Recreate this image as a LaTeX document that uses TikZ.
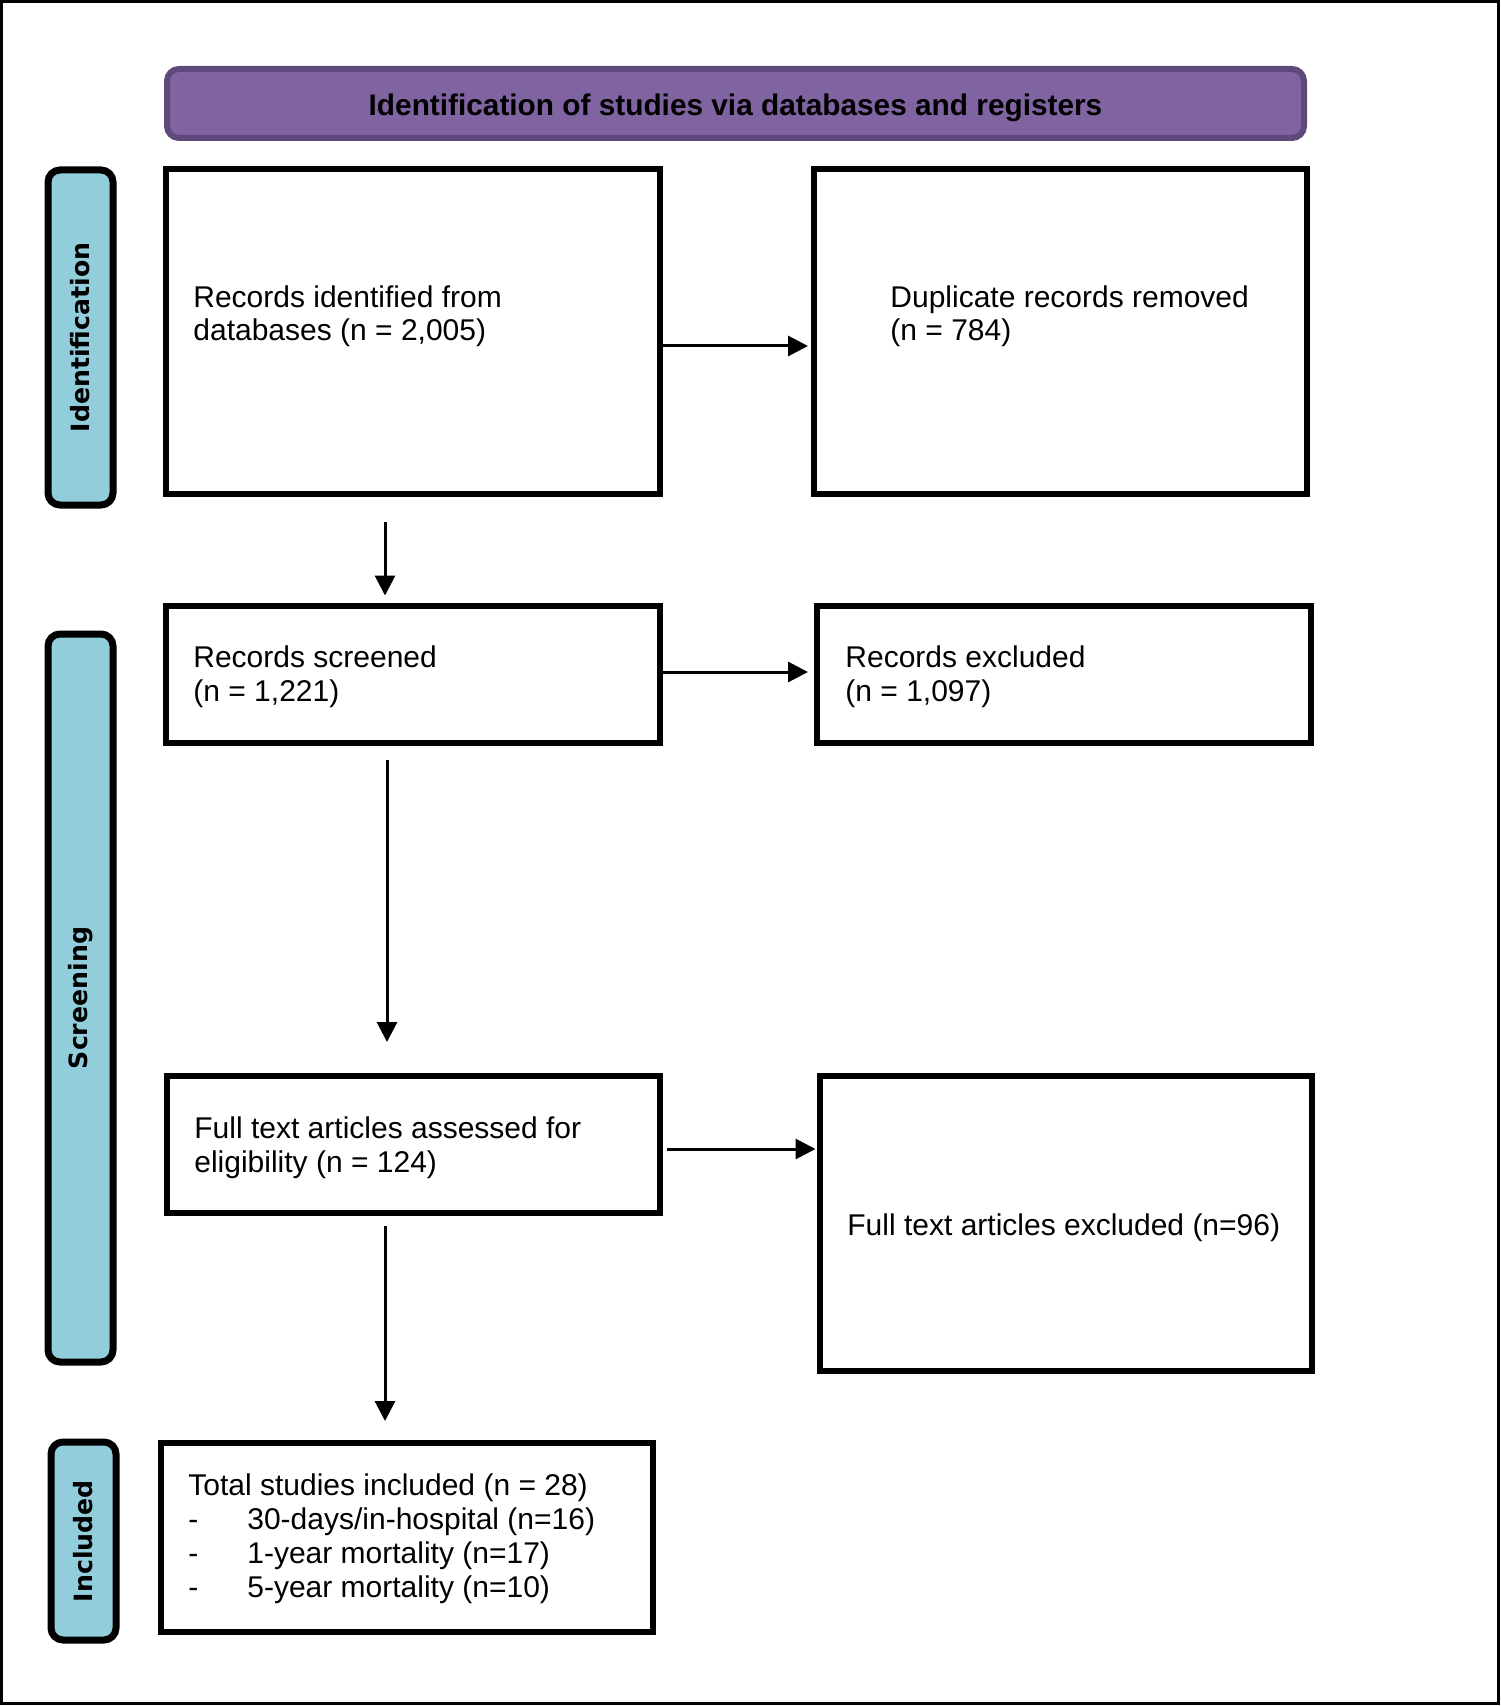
\documentclass[tikz,border=0pt]{standalone}
\usepackage{fontspec}
\setmainfont{Liberation Sans}
\newfontfamily\labfont{DejaVu Sans}
\usetikzlibrary{arrows.meta}
\definecolor{hdrfill}{HTML}{8064A2}
\definecolor{hdrline}{HTML}{5F497A}
\definecolor{labfill}{HTML}{92CDDC}
\begin{document}
\begin{tikzpicture}[x=0.5pt,y=-0.5pt,
  box/.style={draw=black, line width=3pt, rectangle, inner sep=0pt, fill=white},
  side/.style={draw=black, line width=3.5pt, rounded corners=6pt, fill=labfill, inner sep=0pt, rotate=90,
    font=\labfont\bfseries\fontsize{12.6pt}{14pt}\selectfont},
  body/.style={font=\fontsize{15pt}{17pt}\selectfont, inner sep=0pt, anchor=base west},
  arr/.style={line width=1.5pt, -{Triangle[length=10pt,width=10pt]}},
]
\useasboundingbox (0,0) rectangle (1500,1706);
\draw[line width=1.5pt] (1.5,1.5) rectangle (1498.5,1703);

% header
\node[draw=hdrline, fill=hdrfill, line width=3pt, rounded corners=6pt,
      minimum width=568.5pt, minimum height=34.5pt, inner sep=0pt] (hdr) at (735.5,103.5) {};
\node[font=\bfseries\fontsize{14.9pt}{17pt}\selectfont, anchor=base, inner sep=0pt] (hdrt) at (735.5,115.5)
  {Identification of studies via databases and registers};

% side labels
\node[side, minimum width=167.5pt, minimum height=32.5pt] (lid) at (80.5,337.5) {Identification};
\node[side, minimum width=364pt, minimum height=32.5pt] (lscr) at (80.5,998) {Screening};
\node[side, minimum width=99pt, minimum height=32.5pt] (linc) at (83.5,1541) {Included};

% boxes
\node[box, minimum width=247pt, minimum height=162.5pt] (id) at (413,331.5) {};
\node[box, minimum width=246.5pt, minimum height=162.5pt] (dup) at (1060.5,331.5) {};
\node[box, minimum width=247pt, minimum height=68.5pt] (scr) at (413,674.5) {};
\node[box, minimum width=247pt, minimum height=68.5pt] (exc) at (1064,674.5) {};
\node[box, minimum width=246.5pt, minimum height=68.5pt] (full) at (413.5,1144.5) {};
\node[box, minimum width=246pt, minimum height=147.5pt] (fexc) at (1066,1223.5) {};
\node[box, minimum width=246pt, minimum height=94.5pt] (inc) at (407,1537.5) {};

% texts
\node[body] (idt) at (193,307) {\begin{tabular}[t]{@{}l@{}}Records identified from\\databases (n = 2,005)\end{tabular}};
\node[body] (dupt) at (890,307) {\begin{tabular}[t]{@{}l@{}}Duplicate records removed\\(n = 784)\end{tabular}};
\node[body] (scrt) at (193,667.5) {\begin{tabular}[t]{@{}l@{}}Records screened\\(n = 1,221)\end{tabular}};
\node[body] (exct) at (845,667.5) {\begin{tabular}[t]{@{}l@{}}Records excluded\\(n = 1,097)\end{tabular}};
\node[body] (fullt) at (194,1138.5) {\begin{tabular}[t]{@{}l@{}}Full text articles assessed for\\eligibility (n = 124)\end{tabular}};
\node[body] (fexct) at (847,1235) {Full text articles excluded (n=96)};
\node[body] (inct) at (188,1495.5) {\begin{tabular}[t]{@{}l@{}}Total studies included (n = 28)\\
  \makebox[29.5pt][l]{-}30-days/in-hospital (n=16)\\
  \makebox[29.5pt][l]{-}1-year mortality (n=17)\\
  \makebox[29.5pt][l]{-}5-year mortality (n=10)\end{tabular}};

% connectors
\coordinate (hA) at (0,346);
\coordinate (hB) at (0,672);
\coordinate (hC) at (0,1149);
\coordinate (vA) at (385,0);
\coordinate (vB) at (387,0);
\coordinate (vC) at (385,0);
\draw[arr, shorten >=1.5pt] (id.east |- hA) -- (dup.west |- hA);
\draw[arr, shorten >=3pt] (scr.east |- hB) -- (exc.west |- hB);
\draw[arr, shorten <=1.75pt, shorten >=0.75pt] (full.east |- hC) -- (fexc.west |- hC);
\draw[arr, shorten <=12.5pt, shorten >=3.75pt] (id.south -| vA) -- (scr.north -| vA);
\draw[arr, shorten <=7pt, shorten >=15.5pt] (scr.south -| vB) -- (full.north -| vB);
\draw[arr, shorten <=5pt, shorten >=9.5pt] (full.south -| vC) -- (inc.north -| vC);
\end{tikzpicture}
\end{document}
